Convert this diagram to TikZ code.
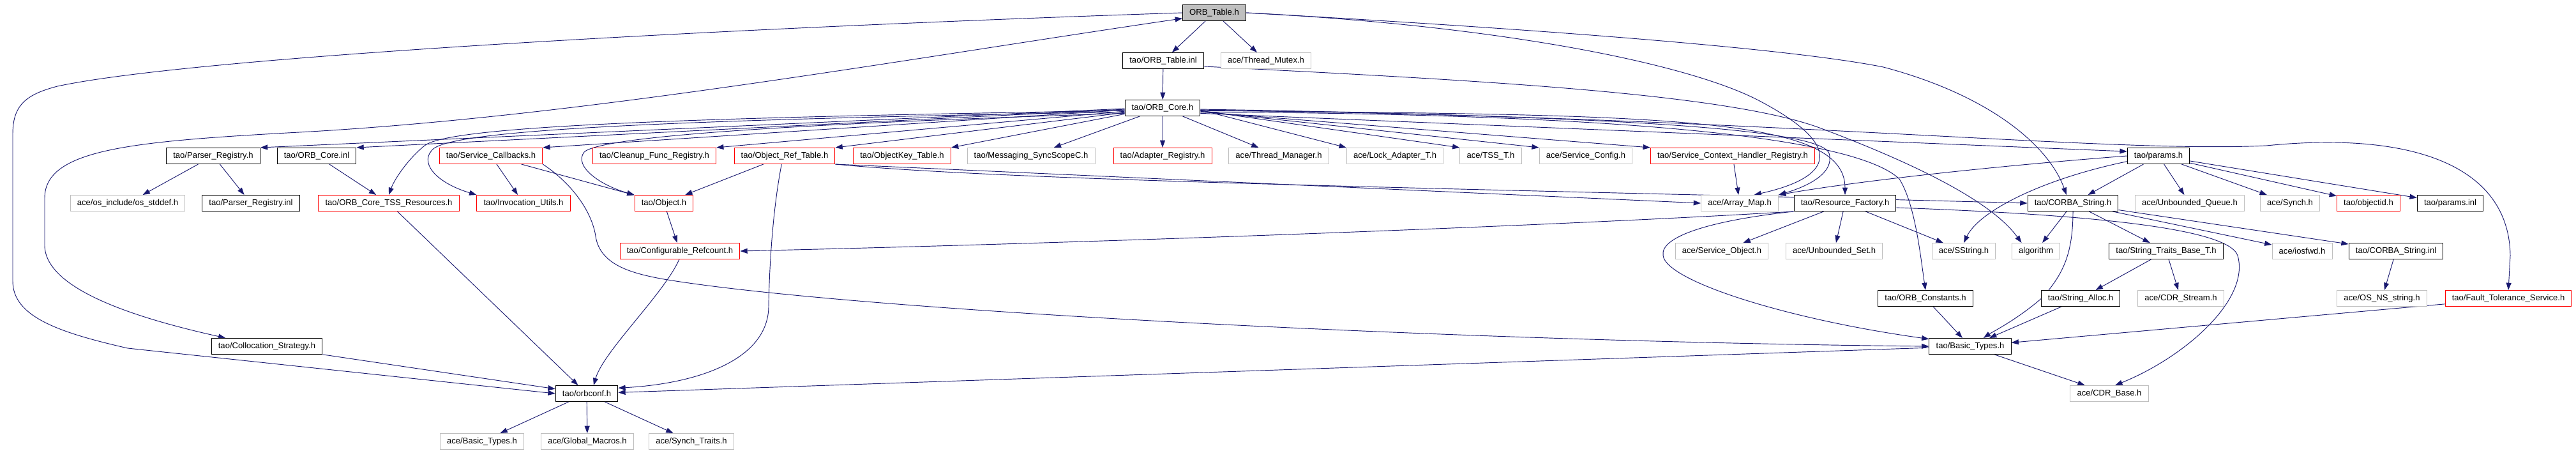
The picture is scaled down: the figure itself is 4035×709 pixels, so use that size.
\documentclass[tikz,border=0pt]{standalone}
\usepackage{fontspec}
\setmainfont{Liberation Sans}
\usepackage{tikz}
\usetikzlibrary{positioning,calc}
\usetikzlibrary{backgrounds}
\usetikzlibrary{arrows.meta}

\definecolor{depblue}{HTML}{191970}
\definecolor{boxred}{HTML}{FF0000}
\definecolor{boxgray}{HTML}{BFBFBF}

\tikzset{
	file/.style={rectangle, draw=black, line width=.75pt, fill=white, text=black, minimum height=18.75pt, inner xsep=8pt, inner ysep=0pt, font=\fontsize{9.8}{11}\selectfont},
	filered/.style={file, draw=boxred},
	filegray/.style={file, draw=boxgray},
	filetop/.style={file, fill=boxgray},
	dep/.style={draw=depblue, line width=.7pt, -{Triangle[length=8.5pt,width=6pt]}},
	depboth/.style={dep, {Triangle[length=8.5pt,width=6pt]}-{Triangle[length=8.5pt,width=6pt]}}
}

\begin{document}
\begin{tikzpicture}[x=0.75pt, y=-0.75pt]
				\useasboundingbox (0,0) rectangle (4035,709);
				% top of the graph
				\node[filetop] (otab) at (1902,20) {ORB\_Table.h};
				\node[file] (otinl) at (1822,95) {tao/ORB\_Table.inl};
				\node[filegray] (mutex) at (1983,95) {ace/Thread\_Mutex.h};
				\node[file] (ocore) at (1821,169) {tao/ORB\_Core.h};
				% row 3
				\node[file] (preg) at (334,244) {tao/Parser\_Registry.h};
				\node[file] (ocinl) at (496,244) {tao/ORB\_Core.inl};
				\node[filered] (svccb) at (769,244) {tao/Service\_Callbacks.h};
				\node[filered] (cleanup) at (1025,244) {tao/Cleanup\_Func\_Registry.h};
				\node[filered] (objref) at (1229,244) {tao/Object\_Ref\_Table.h};
				\node[filered] (objkey) at (1413,244) {tao/ObjectKey\_Table.h};
				\node[filegray] (msgsync) at (1615,244) {tao/Messaging\_SyncScopeC.h};
				\node[filered] (adreg) at (1821,244) {tao/Adapter\_Registry.h};
				\node[filegray] (thrmgr) at (2003,244) {ace/Thread\_Manager.h};
				\node[filegray] (lockad) at (2185,244) {ace/Lock\_Adapter\_T.h};
				\node[filegray] (tss) at (2335,244) {ace/TSS\_T.h};
				\node[filegray] (svcconf) at (2484,244) {ace/Service\_Config.h};
				\node[filered] (schr) at (2714,244) {tao/Service\_Context\_Handler\_Registry.h};
				\node[file] (params) at (3381,244) {tao/params.h};
				% row 4
				\node[filegray] (stddef) at (200,318) {ace/os\_include/os\_stddef.h};
				\node[file] (preginl) at (393,318) {tao/Parser\_Registry.inl};
				\node[filered] (tssres) at (609,318) {tao/ORB\_Core\_TSS\_Resources.h};
				\node[filered] (invutil) at (820,318) {tao/Invocation\_Utils.h};
				\node[filered] (object) at (1040,318) {tao/Object.h};
				\node[filegray] (amap) at (2725,318) {ace/Array\_Map.h};
				\node[file] (resfac) at (2890,318) {tao/Resource\_Factory.h};
				\node[file] (corba) at (3247,318) {tao/CORBA\_String.h};
				\node[filegray] (uqueue) at (3430,318) {ace/Unbounded\_Queue.h};
				\node[filegray] (synch) at (3587,318) {ace/Synch.h};
				\node[filered] (objid) at (3710,318) {tao/objectid.h};
				\node[file] (parinl) at (3838,318) {tao/params.inl};
				% row 5
				\node[filered] (cfgref) at (1065,393) {tao/Configurable\_Refcount.h};
				\node[filegray] (svcobj) at (2697,393) {ace/Service\_Object.h};
				\node[filegray] (unbset) at (2873,393) {ace/Unbounded\_Set.h};
				\node[filegray] (sstring) at (3076,393) {ace/SString.h};
				\node[filegray] (algo) at (3189,393) {algorithm};
				\node[file] (strtraits) at (3393,393) {tao/String\_Traits\_Base\_T.h};
				\node[filegray] (iosfwd) at (3606,393) {ace/iosfwd.h};
				\node[file] (corbainl) at (3753,393) {tao/CORBA\_String.inl};
				% row 6
				\node[file] (consts) at (3016,467) {tao/ORB\_Constants.h};
				\node[file] (stralloc) at (3259,467) {tao/String\_Alloc.h};
				\node[filegray] (cdrstream) at (3416,467) {ace/CDR\_Stream.h};
				\node[filegray] (osns) at (3731,467) {ace/OS\_NS\_string.h};
				\node[filered] (fts) at (3929,467) {tao/Fault\_Tolerance\_Service.h};
				% rows 7 to 9
				\node[file] (colloc) at (418,542) {tao/Collocation\_Strategy.h};
				\node[file] (tbasic) at (3086,542) {tao/Basic\_Types.h};
				\node[file] (orbconf) at (919,616) {tao/orbconf.h};
				\node[filegray] (cdrbase) at (3304,616) {ace/CDR\_Base.h};
				\node[filegray] (abasic) at (755,691) {ace/Basic\_Types.h};
				\node[filegray] (gmacros) at (920,691) {ace/Global\_Macros.h};
				\node[filegray] (straits) at (1083,691) {ace/Synch\_Traits.h};

				\begin{scope}[on background layer]
				% ORB_Table.h
				\draw[dep] (otab) -- (otinl);
				\draw[dep] (otab) -- (mutex);
				\draw[dep] (otab.west) .. controls (1100,45) and (300,90) .. (90,135) .. controls (40,148) and (20,165) .. (20,210) -- (20,440) .. controls (20,495) and (90,520) .. (200,545) -- (orbconf.west);
				\draw[depboth] (otab.190) .. controls (1400,95) and (900,185) .. (450,208) .. controls (200,222) and (70,235) .. (70,310) -- (70,385) .. controls (72,450) and (200,495) .. ([xshift=17pt]colloc.north west);
				\draw[dep] (otab.east) .. controls (2400,45) and (2800,75) .. (2950,105) .. controls (3120,150) and (3210,230) .. (corba.128);
				\draw[dep] (otab.east) .. controls (2350,40) and (2650,100) .. (2760,160) .. controls (2900,235) and (2860,280) .. (amap.30);
				% ORB_Table.inl
				\draw[dep] (otinl) -- (ocore);
				\draw[dep] (otinl.-8) .. controls (2300,125) and (2700,145) .. (2850,200) .. controls (3050,275) and (3130,330) .. (algo.150);
				% ORB_Core.h, left side
				\draw[dep] (ocore.181) -- (preg.north east);
				\draw[dep] (ocore.182) -- (ocinl.north east);
				\draw[dep] (ocore.183) -- (svccb.north east);
				\draw[dep] (ocore.185) -- (cleanup.north east);
				\draw[dep] (ocore.187) -- (objref.north east);
				\draw[dep] (ocore.189) -- (objkey.north east);
				\draw[dep] (ocore.184) .. controls (1000,185) and (700,200) .. (665,228) .. controls (640,248) and (618,280) .. (tssres.north);
				\draw[dep] (ocore.186) .. controls (1000,188) and (720,205) .. (680,232) .. controls (655,252) and (680,285) .. (invutil.north west);
				\draw[dep] (ocore.188) .. controls (1200,195) and (940,215) .. (915,238) .. controls (898,260) and (940,290) .. (object.north west);
				% ORB_Core.h, below and right
				\draw[dep] (ocore) -- (msgsync);
				\draw[dep] (ocore) -- (adreg);
				\draw[dep] (ocore) -- (thrmgr);
				\draw[dep] (ocore.-3) -- (lockad.north west);
				\draw[dep] (ocore.-4) -- (tss.north west);
				\draw[dep] (ocore.-5) -- (svcconf.north west);
				\draw[dep] (ocore.-6) -- (schr.north west);
				\draw[dep] (ocore.-8) -- (params.172);
				\draw[dep] (ocore.-3) .. controls (2400,180) and (2850,195) .. (2865,240) .. controls (2875,275) and (2820,295) .. (amap.north east);
				\draw[dep] (ocore.-4) .. controls (2600,180) and (2890,180) .. (resfac.north);
				\draw[dep] (ocore.-6) .. controls (2500,178) and (2900,210) .. (2975,280) .. controls (3000,320) and (3008,400) .. (consts.north);
				\draw[dep] (ocore.-2) .. controls (2800,185) and (3300,240) .. (3550,228) .. controls (3780,205) and (3930,260) .. (3932,400) -- (fts.north);
				% row 3 files
				\draw[dep] (preg) -- (stddef);
				\draw[dep] (preg) -- (preginl);
				\draw[dep] (ocinl) -- (tssres);
				\draw[dep] (svccb) -- (invutil);
				\draw[dep] (svccb) -- (object);
				\draw[dep] (svccb.south east) .. controls (900,290) and (928,335) .. (933,370) .. controls (940,415) and (990,428) .. (1040,437) .. controls (1340,487) and (2300,535) .. (tbasic.west);
				\draw[dep] (objref) -- (object);
				\draw[dep] (objref.250) .. controls (1210,330) and (1205,420) .. (1204,480) .. controls (1203,560) and (1100,600) .. (orbconf.10);
				\draw[dep] (objref.south east) -- (amap.west);
				\draw[dep] (objref.south east) .. controls (1600,285) and (2400,297) .. (corba.west);
				\draw[dep] (schr) -- (amap);
				\draw[dep] (params.west) .. controls (3100,262) and (2900,285) .. (amap.north east);
				\draw[dep] (params.190) .. controls (3200,280) and (3100,330) .. (sstring.north);
				\draw[dep] (params) -- (corba);
				\draw[dep] (params) -- (uqueue);
				\draw[dep] (params) -- (synch);
				\draw[dep] (params) -- (objid);
				\draw[dep] (params) -- (parinl);
				% row 4 files
				\draw[dep] (tssres) -- (orbconf);
				\draw[dep] (object) -- (cfgref);
				\draw[dep] (resfac) -- (svcobj);
				\draw[dep] (resfac) -- (unbset);
				\draw[dep] (resfac) -- (sstring);
				\draw[dep] (resfac.south west) .. controls (2500,350) and (1800,378) .. (cfgref.east);
				\draw[dep] (resfac.south west) .. controls (2680,345) and (2600,370) .. (2605,400) .. controls (2610,440) and (2800,500) .. (tbasic.170);
				\draw[dep] (resfac.-5) .. controls (3250,335) and (3490,355) .. (3505,400) .. controls (3525,470) and (3420,560) .. (cdrbase.55);
				\draw[dep] (corba) -- (algo);
				\draw[dep] (corba) -- (strtraits);
				\draw[dep] (corba) -- (iosfwd);
				\draw[dep] (corba) -- (corbainl);
				\draw[dep] (corba.south) .. controls (3247,400) and (3230,430) .. (3200,465) .. controls (3160,500) and (3120,520) .. (tbasic.32);
				% lower rows
				\draw[dep] (cfgref.265) .. controls (1040,460) and (945,550) .. (orbconf.50);
				\draw[dep] (strtraits) -- (stralloc);
				\draw[dep] (strtraits) -- (cdrstream);
				\draw[dep] (corbainl) -- (osns);
				\draw[dep] (stralloc) -- (tbasic);
				\draw[dep] (consts) -- (tbasic);
				\draw[dep] (fts) -- (tbasic);
				\draw[dep] (colloc) -- (orbconf);
				\draw[dep] (tbasic) -- (orbconf);
				\draw[dep] (tbasic) -- (cdrbase);
				\draw[dep] (orbconf) -- (abasic);
				\draw[dep] (orbconf) -- (gmacros);
				\draw[dep] (orbconf) -- (straits);
				\end{scope}
			\end{tikzpicture}
\end{document}
